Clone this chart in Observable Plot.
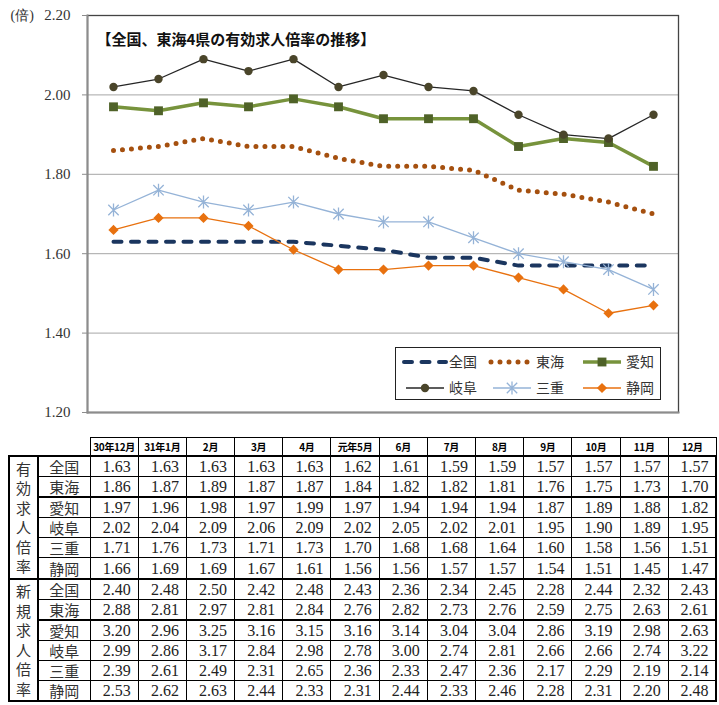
<!DOCTYPE html>
<html><head><meta charset="utf-8">
<script src="https://cdn.jsdelivr.net/npm/d3@7"></script>
<script src="https://cdn.jsdelivr.net/npm/@observablehq/plot@0.6"></script>
<style>
body{margin:0;background:#fff;}
#wrap{position:relative;width:719px;height:705px;overflow:hidden;}
#chart{position:absolute;left:0;top:0;}
#legend{position:absolute;left:395px;top:347px;width:264px;height:51px;border:1px solid #222;background:#fff;}
#legend .lab{position:absolute;font-family:"Noto Sans CJK JP";font-size:14px;color:#333;line-height:16px;}
table.t{position:absolute;left:8px;top:437px;border-collapse:collapse;table-layout:fixed;}
table.t th{font-family:"Noto Sans CJK JP";font-weight:bold;font-size:10px;height:17px;padding:0;border:1.5px solid #000;text-align:center;color:#000;letter-spacing:-0.3px;}
table.t th.empty{border:none;}
table.t td{padding:0;height:19.1px;line-height:17px;border:1px solid #000;}
table.t td.num{font-family:"Liberation Serif","Times New Roman",serif;font-size:16px;text-align:right;padding-right:7px;color:#222;}
table.t td.lab{font-family:"Noto Sans CJK JP";font-size:15px;text-align:center;color:#333;}
table.t td.grp{border:2.5px solid #000;text-align:center;vertical-align:middle;font-family:"Noto Sans CJK JP";font-size:15px;color:#333;line-height:19.5px;}
table.t tr.gstart td{border-top:2.5px solid #000;}
table.t tr.sub td{border-top:2px solid #000;}
table.t tr.last td{border-bottom:2.5px solid #000;}
table.t td.lastc{border-right:2.5px solid #000;}
</style></head><body><div id="wrap"><div id="chart"></div><div id="legend"></div></div>
<script>
const months = ["30年12月","31年1月","2月","3月","4月","元年5月","6月","7月","8月","9月","10月","11月","12月"];
const prefectures = ["全国","東海","愛知","岐阜","三重","静岡"];
// 有効求人倍率
const effZenkoku = [1.63,1.63,1.63,1.63,1.63,1.62,1.61,1.59,1.59,1.57,1.57,1.57,1.57];
const effTokai   = [1.86,1.87,1.89,1.87,1.87,1.84,1.82,1.82,1.81,1.76,1.75,1.73,1.70];
const effAichi   = [1.97,1.96,1.98,1.97,1.99,1.97,1.94,1.94,1.94,1.87,1.89,1.88,1.82];
const effGifu    = [2.02,2.04,2.09,2.06,2.09,2.02,2.05,2.02,2.01,1.95,1.90,1.89,1.95];
const effMie     = [1.71,1.76,1.73,1.71,1.73,1.70,1.68,1.68,1.64,1.60,1.58,1.56,1.51];
const effShizuoka= [1.66,1.69,1.69,1.67,1.61,1.56,1.56,1.57,1.57,1.54,1.51,1.45,1.47];
// 新規求人倍率
const newZenkoku = [2.40,2.48,2.50,2.42,2.48,2.43,2.36,2.34,2.45,2.28,2.44,2.32,2.43];
const newTokai   = [2.88,2.81,2.97,2.81,2.84,2.76,2.82,2.73,2.76,2.59,2.75,2.63,2.61];
const newAichi   = [3.20,2.96,3.25,3.16,3.15,3.16,3.14,3.04,3.04,2.86,3.19,2.98,2.63];
const newGifu    = [2.99,2.86,3.17,2.84,2.98,2.78,3.00,2.74,2.81,2.66,2.66,2.74,3.22];
const newMie     = [2.39,2.61,2.49,2.31,2.65,2.36,2.33,2.47,2.36,2.17,2.29,2.19,2.14];
const newShizuoka= [2.53,2.62,2.63,2.44,2.33,2.31,2.44,2.33,2.46,2.28,2.31,2.20,2.48];
const yTicks = [1.2,1.4,1.6,1.8,2.0,2.2];
const title = "【全国、東海4県の有効求人倍率の推移】";
const unitLabel = "(倍)";
const groupEff = "有効求人倍率";
const groupNew = "新規求人倍率";

const effSeries = [effZenkoku,effTokai,effAichi,effGifu,effMie,effShizuoka];
const newSeries = [newZenkoku,newTokai,newAichi,newGifu,newMie,newShizuoka];

const starSymbol = {draw(ctx, size){
  const r = Math.sqrt(size/Math.PI);
  const d = r*0.8;
  ctx.moveTo(0,-r); ctx.lineTo(0,r);
  ctx.moveTo(-d,-d); ctx.lineTo(d,d);
  ctx.moveTo(-d,d); ctx.lineTo(d,-d);
}};

const styles = {
  "全国": {line:{stroke:"#1b365f",strokeWidth:4,strokeDasharray:"8,9.5",strokeLinecap:"round"}},
  "東海": {line:{stroke:"#a5500f",strokeWidth:5,strokeDasharray:"0,9",strokeLinecap:"round"}},
  "愛知": {line:{stroke:"#77933c",strokeWidth:3.5}, dot:{symbol:"square",r:5,fill:"#4f6228",stroke:"none"}},
  "岐阜": {line:{stroke:"#262626",strokeWidth:1.3}, dot:{symbol:"circle",r:4.2,fill:"#4a452a",stroke:"none"}},
  "三重": {line:{stroke:"#95b3d7",strokeWidth:1.3}, dot:{symbol:starSymbol,r:6.5,fill:"none",stroke:"#95b3d7",strokeWidth:1.3}},
  "静岡": {line:{stroke:"#e8710f",strokeWidth:1.3}, dot:{symbol:"diamond2",r:4.6,fill:"#e8710f",stroke:"none"}}
};

const data = prefectures.map((p,i)=>effSeries[i].map((v,j)=>({pref:p,month:months[j],value:v})));

const marks = [
  Plot.gridY(yTicks,{stroke:"#a6a6a6",strokeOpacity:1,strokeWidth:1}),
  Plot.frame({stroke:"#444",strokeWidth:1.3}),
  Plot.frame({anchor:"left",stroke:"#8c8c8c",strokeWidth:2}),
  Plot.frame({anchor:"bottom",stroke:"#8c8c8c",strokeWidth:2}),
  Plot.axisY(yTicks,{label:null,tickSize:5,tickPadding:12,tickFormat:d=>d.toFixed(2),stroke:"#8c8c8c",fill:"#333",fontSize:15}),
  Plot.text([unitLabel],{frameAnchor:"top-left",dx:-77,dy:0,textAnchor:"start",lineAnchor:"middle",fontSize:14,fill:"#333"}),
  Plot.text([title],{frameAnchor:"top-left",dx:9,dy:25,textAnchor:"start",lineAnchor:"middle",fontSize:15,fontWeight:"bold",fill:"#111",fontFamily:"Noto Sans CJK JP"})
];
prefectures.forEach((p,i)=>{
  const s = styles[p];
  marks.push(Plot.line(data[i],{x:"month",y:"value",...s.line}));
  if (s.dot) marks.push(Plot.dot(data[i],{x:"month",y:"value",...s.dot}));
});

const chart = Plot.plot({
  width:719, height:425,
  marginLeft:87, marginRight:41, marginTop:15, marginBottom:13,
  x:{type:"point",domain:months,padding:0.5,axis:null},
  y:{domain:[1.2,2.2],axis:null},
  style:{fontFamily:"'Liberation Serif','Times New Roman',serif",fontSize:"15px",background:"white",overflow:"visible"},
  marks
});
document.getElementById("chart").appendChild(chart);

// legend
const legend = document.getElementById("legend");
const lsvg = d3.select(legend).append("svg").attr("width",264).attr("height",51).style("position","absolute").style("left","0").style("top","0");
const colX = [8,95,185];
const rowY = [14,40];
prefectures.forEach((p,i)=>{
  const s = styles[p];
  const x0 = colX[i%3], y0 = rowY[Math.floor(i/3)];
  const g = lsvg.append("g");
  const l = g.append("line").attr("x1",x0+(i<2?0:2)).attr("x2",x0+(i<2?42:40)).attr("y1",y0).attr("y2",y0)
    .attr("stroke",s.line.stroke).attr("stroke-width",s.line.strokeWidth);
  if (s.line.strokeDasharray) l.attr("stroke-dasharray",s.line.strokeDasharray).attr("stroke-linecap","round");
  if (s.dot){
    const sym = typeof s.dot.symbol === "string" ? ({square:d3.symbolSquare,circle:d3.symbolCircle,diamond2:d3.symbolDiamond2})[s.dot.symbol] : s.dot.symbol;
    g.append("path").attr("transform",`translate(${x0+21},${y0})`)
      .attr("d",d3.symbol(sym, s.dot.r*s.dot.r*Math.PI)())
      .attr("fill",s.dot.fill).attr("stroke",s.dot.stroke||"none").attr("stroke-width",s.dot.strokeWidth||0);
  }
  const lab = document.createElement("div");
  lab.className="lab"; lab.textContent=p;
  lab.style.left=(x0+45)+"px"; lab.style.top=(y0-9)+"px";
  legend.appendChild(lab);
});

// table
const tbl = d3.select("#wrap").append("table").attr("class","t");
const cg = tbl.append("colgroup");
cg.append("col").style("width","29px");
cg.append("col").style("width","52px");
months.forEach(()=>cg.append("col").style("width","48.2px"));
const hr = tbl.append("tr");
hr.append("th").attr("class","empty"); hr.append("th").attr("class","empty");
months.forEach(m=>hr.append("th").text(m));
[[groupEff,effSeries],[groupNew,newSeries]].forEach(([gname,series])=>{
  prefectures.forEach((p,i)=>{
    const tr = tbl.append("tr").attr("class", i===0?"gstart":(i===2?"sub":(i===5?"last":"")));
    if (i===0) tr.append("td").attr("class","grp").attr("rowspan",6).html(gname.split("").join("<br>"));
    tr.append("td").attr("class","lab").text(p);
    series[i].forEach((v,j)=>tr.append("td").attr("class","num"+(j===months.length-1?" lastc":"")).text(v.toFixed(2)));
  });
});
</script></body></html>
